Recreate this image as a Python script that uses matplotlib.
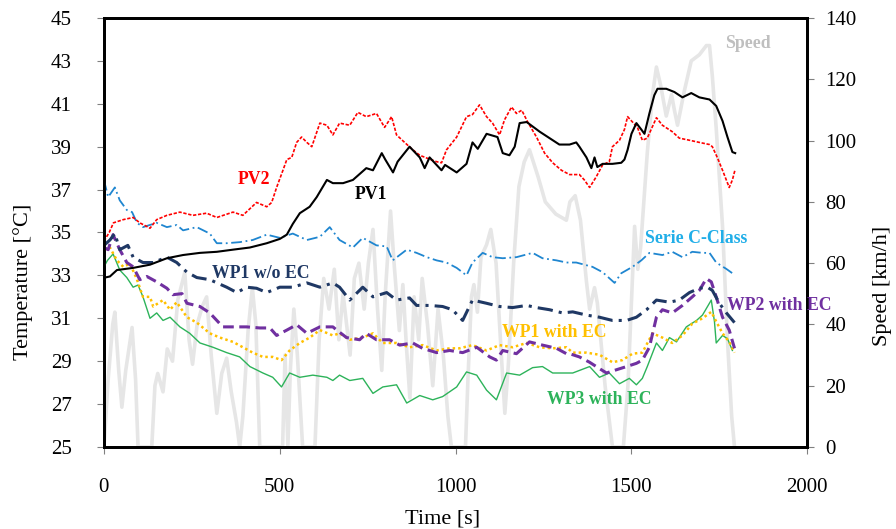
import matplotlib
matplotlib.use('Agg')
import matplotlib.pyplot as plt

plt.rcParams['font.family'] = ['Liberation Serif', 'DejaVu Serif']

# ---- data ----
pv1_t = [0, 3, 17, 37, 83, 131, 179, 225, 273, 321, 367, 415, 463, 500, 520, 537, 557, 585, 605, 634,
         651, 680, 708, 746, 765, 790, 800, 822, 835, 869, 898, 912, 926, 960, 970, 1003, 1031, 1048,
         1063, 1088, 1119, 1134, 1153, 1168, 1182, 1202, 1239, 1267, 1295, 1324, 1343, 1352, 1372, 1386,
         1395, 1403, 1418, 1446, 1471, 1480, 1489, 1500, 1514, 1528, 1537, 1551, 1565, 1574, 1599, 1622,
         1645, 1670, 1693, 1722, 1741, 1759, 1773, 1787, 1795]
pv1 = [33.0, 32.9, 32.95, 33.25, 33.35, 33.5, 33.8, 33.95, 34.05, 34.1, 34.2, 34.3, 34.5, 34.7, 34.9, 35.4,
       35.9, 36.2, 36.65, 37.45, 37.3, 37.3, 37.45, 38.0, 37.9, 38.7, 38.4, 37.8, 38.3, 39.0, 38.5, 38.0,
       38.5, 37.9, 38.15, 37.8, 38.2, 39.2, 38.9, 39.6, 39.45, 38.7, 38.6, 39.0, 40.1, 40.15, 39.7, 39.4,
       39.1, 39.1, 39.2, 39.0, 38.5, 38.0, 38.5, 38.05, 38.2, 38.2, 38.25, 38.4, 38.85, 39.6, 40.1, 39.8,
       39.6, 40.55, 41.4, 41.7, 41.7, 41.55, 41.3, 41.5, 41.3, 41.2, 40.9, 40.2, 39.45, 38.75, 38.7]

pv2_t = [0, 15, 27, 55, 83, 102, 131, 150, 179, 216, 253, 292, 321, 367, 395, 434, 463, 477, 491, 509,
         520, 534, 548, 562, 577, 591, 614, 634, 651, 670, 699, 722, 746, 775, 798, 818, 832, 855, 875,
         898, 921, 946, 960, 974, 1003, 1031, 1048, 1068, 1088, 1105, 1125, 1139, 1159, 1173, 1188, 1205,
         1230, 1253, 1276, 1301, 1324, 1352, 1366, 1381, 1400, 1418, 1437, 1446, 1466, 1480, 1489, 1503,
         1517, 1531, 1545, 1571, 1588, 1616, 1636, 1665, 1693, 1722, 1730, 1744, 1759, 1778, 1787, 1795]
pv2 = [34.6, 35.0, 35.45, 35.6, 35.7, 35.45, 35.2, 35.6, 35.8, 35.95, 35.8, 35.9, 35.7, 35.95, 35.8, 36.4,
       36.2, 36.4, 37.1, 37.9, 38.4, 38.5, 39.2, 39.45, 39.2, 39.0, 40.1, 40.0, 39.55, 40.1, 40.0, 40.6,
       40.4, 40.55, 39.9, 40.4, 39.55, 39.2, 38.9, 38.6, 38.45, 38.3, 38.25, 38.85, 39.45, 40.4, 40.5,
       40.95, 40.4, 40.1, 39.55, 40.25, 40.85, 40.55, 40.7, 40.15, 39.45, 38.7, 38.25, 37.9, 37.7, 37.7,
       37.45, 37.1, 37.6, 38.15, 38.3, 39.0, 39.3, 39.8, 40.4, 40.15, 39.9, 39.3, 39.4, 40.35, 40.0, 39.7,
       39.4, 39.3, 39.2, 39.1, 39.0, 38.5, 37.9, 37.1, 37.45, 37.95]

cclass_t = [0, 12, 31, 45, 65, 80, 94, 111, 150, 179, 207, 225, 264, 301, 321, 349, 386, 423, 463, 500,
            537, 577, 614, 642, 670, 708, 736, 775, 804, 821, 861, 889, 918, 946, 974, 1003, 1031, 1048,
            1077, 1105, 1134, 1173, 1219, 1247, 1287, 1315, 1343, 1389, 1418, 1452, 1471, 1503, 1528,
            1551, 1588, 1616, 1645, 1673, 1702, 1722, 1741, 1770, 1787]
cclass = [37.45, 36.65, 37.1, 36.5, 36.05, 35.95, 35.45, 35.25, 35.45, 35.25, 35.35, 35.1, 35.25, 34.95,
          34.5, 34.5, 34.55, 34.65, 34.9, 34.75, 34.95, 34.65, 34.8, 35.25, 34.65, 34.3, 34.75, 34.4,
          34.35, 33.7, 34.2, 34.05, 33.85, 33.7, 33.6, 33.35, 33.0, 33.6, 34.05, 33.85, 33.8, 33.85, 34.05,
          33.8, 33.7, 33.6, 33.6, 33.4, 33.15, 32.65, 33.1, 33.4, 33.7, 34.05, 33.95, 34.1, 33.85, 34.1,
          34.05, 34.05, 33.6, 33.3, 33.1]

wp1_noec_t = [0, 17, 31, 45, 68, 83, 111, 140, 179, 207, 236, 264, 301, 349, 378, 406, 434, 463, 500,
              537, 577, 614, 651, 670, 699, 736, 765, 804, 832, 869, 889, 926, 963, 991, 1020, 1048, 1088,
              1125, 1162, 1202, 1230, 1267, 1304, 1333, 1372, 1409, 1446, 1486, 1514, 1543, 1571, 1608,
              1636, 1665, 1693, 1716, 1730, 1750, 1770, 1793]
wp1_noec = [34.4, 34.65, 34.95, 34.2, 34.4, 33.85, 33.6, 33.6, 33.85, 33.6, 33.15, 32.9, 32.8, 32.45, 32.2,
            32.45, 32.4, 32.2, 32.45, 32.45, 32.65, 32.45, 32.65, 32.45, 31.85, 32.45, 32.0, 32.2, 31.85,
            31.95, 31.6, 31.6, 31.55, 31.4, 30.9, 31.85, 31.7, 31.55, 31.5, 31.6, 31.5, 31.4, 31.25, 31.3,
            31.15, 31.05, 30.9, 30.9, 31.05, 31.4, 31.85, 31.75, 31.85, 32.2, 32.4, 32.45, 32.3, 31.7,
            31.25, 30.8]

wp2_t = [0, 12, 26, 45, 65, 83, 102, 122, 150, 179, 196, 222, 236, 273, 301, 338, 367, 406, 443, 472, 491,
         520, 548, 577, 614, 651, 662, 690, 727, 746, 775, 812, 841, 878, 906, 946, 983, 1020, 1060, 1097,
         1116, 1134, 1173, 1210, 1247, 1287, 1315, 1324, 1352, 1381, 1400, 1429, 1457, 1486, 1514, 1531,
         1551, 1571, 1588, 1616, 1645, 1673, 1693, 1713, 1727, 1741, 1759, 1778, 1793]
wp2 = [34.3, 34.2, 34.9, 34.2, 33.6, 33.4, 32.8, 32.95, 32.7, 32.4, 32.1, 32.15, 31.7, 31.55, 31.25, 30.6,
       30.6, 30.6, 30.55, 30.55, 30.2, 30.45, 30.7, 30.3, 30.6, 30.6, 30.45, 30.1, 30.0, 30.3, 30.0, 30.0,
       29.75, 29.85, 29.6, 29.4, 29.5, 29.4, 29.65, 29.2, 29.05, 29.5, 29.35, 29.9, 29.75, 29.6, 29.35,
       29.35, 29.2, 28.95, 28.75, 28.45, 28.6, 28.75, 28.9, 29.05, 29.65, 31.05, 31.4, 31.25, 31.6, 32.0,
       32.3, 32.85, 32.7, 32.0, 31.05, 30.45, 29.6]

wp1_ec_t = [0, 17, 37, 55, 74, 93, 111, 131, 140, 168, 188, 207, 236, 264, 301, 330, 367, 395, 423, 452,
            480, 505, 528, 557, 585, 614, 651, 670, 699, 736, 765, 793, 832, 869, 906, 946, 983, 1011,
            1048, 1088, 1125, 1162, 1202, 1239, 1276, 1315, 1333, 1372, 1409, 1446, 1474, 1503, 1531,
            1560, 1588, 1616, 1645, 1673, 1702, 1727, 1741, 1759, 1778, 1793]
wp1_ec = [34.2, 34.3, 33.7, 33.4, 33.55, 32.85, 32.0, 32.0, 31.55, 31.85, 31.4, 31.75, 31.05, 30.8, 30.3,
          30.1, 29.9, 29.65, 29.4, 29.2, 29.2, 29.05, 29.5, 29.85, 30.1, 30.45, 30.2, 30.3, 30.0, 30.1,
          30.3, 29.85, 29.85, 29.65, 29.75, 29.5, 29.6, 29.6, 29.75, 29.5, 29.75, 29.65, 29.85, 29.65,
          29.6, 29.65, 29.4, 29.4, 29.3, 28.95, 29.05, 29.35, 29.4, 30.3, 30.1, 29.85, 30.2, 30.75, 31.0,
          31.3, 30.85, 30.3, 29.9, 29.4]

wp3_t = [0, 10, 26, 45, 65, 83, 97, 111, 131, 150, 168, 188, 216, 244, 273, 310, 349, 386, 415, 452, 480,
         505, 528, 557, 594, 634, 651, 670, 699, 736, 765, 793, 832, 861, 898, 935, 963, 1003, 1031, 1060,
         1088, 1116, 1145, 1182, 1219, 1247, 1276, 1315, 1333, 1381, 1409, 1437, 1466, 1494, 1514, 1531,
         1545, 1571, 1588, 1608, 1628, 1656, 1685, 1702, 1727, 1736, 1741, 1759, 1773, 1787]
wp3 = [33.4, 33.7, 34.0, 33.25, 32.9, 32.45, 32.55, 32.0, 31.0, 31.25, 30.9, 31.05, 30.6, 30.3, 29.85,
       29.65, 29.4, 29.2, 28.75, 28.45, 28.25, 27.8, 28.45, 28.25, 28.35, 28.25, 28.1, 28.35, 28.1, 28.2,
       27.5, 27.8, 27.9, 27.05, 27.4, 27.2, 27.35, 27.8, 28.5, 28.35, 27.65, 27.2, 28.45, 28.35, 28.7,
       28.75, 28.45, 28.45, 28.45, 28.75, 28.25, 28.45, 27.95, 28.2, 27.9, 28.2, 28.75, 29.85, 29.5, 30.1,
       29.9, 30.6, 30.9, 31.15, 31.85, 30.85, 29.85, 30.2, 30.05, 29.5]

speed_t = [0, 12, 25, 31, 42, 51, 62, 80, 90, 97, 136, 145, 153, 168, 180, 195, 210, 230, 242, 252, 265,
           280, 292, 305, 321, 335, 349, 362, 377, 386, 395, 410, 422, 432, 443, 508, 515, 523, 530, 540,
           550, 565, 600, 612, 625, 640, 655, 668, 680, 700, 712, 725, 740, 752, 765, 778, 790, 800, 815,
           825, 840, 850, 860, 870, 882, 895, 905, 920, 935, 950, 965, 978, 988, 1028, 1035, 1045, 1052,
           1062, 1072, 1088, 1100, 1115, 1130, 1140, 1150, 1165, 1180, 1195, 1210, 1235, 1255, 1285, 1315,
           1325, 1340, 1355, 1372, 1381, 1395, 1403, 1425, 1446, 1477, 1490, 1509, 1518, 1526, 1545, 1560,
           1571, 1583, 1599, 1614, 1622, 1631, 1650, 1670, 1693, 1713, 1722, 1730, 1741, 1759, 1773, 1785,
           1793]
speed = [0, 22, 40, 44, 25, 13, 25, 39, 22, 0, 0, 20, 24, 18, 32, 28, 48, 57, 35, 27, 40,
         46, 49, 30, 11, 24, 29, 18, 8, 0, 10, 38, 52, 40, 0, 0, 30, 0, 25, 45,
         30, 0, 0, 35, 55, 45, 58, 35, 50, 30, 55, 60, 45, 60, 71, 45, 25, 50, 77,
         60, 38, 53, 33, 16, 49, 35, 55, 40, 20, 45, 30, 10, 0, 0, 22, 49, 53,
         44, 62, 66, 71, 60, 30, 11, 27, 60, 85, 93, 97, 88, 80, 76, 74,
         80, 82, 74, 54, 45, 52, 47, 20, 0, 0, 20, 72, 58, 65, 96, 115,
         124, 118, 108, 115, 110, 105, 116, 126, 128, 131, 131, 121, 104, 72, 35, 10,
         0]

fig, ax = plt.subplots(figsize=(8.96, 5.29), dpi=100)
fig.subplots_adjust(left=0.116, right=0.901, bottom=0.155, top=0.966)

ax2 = ax.twinx()
ax2.plot(speed_t, speed, color='#e6e6e6', lw=2.6, zorder=1)
ax2.set_ylim(0, 140)
ax2.set_yticks(range(0, 141, 20))
ax2.set_ylabel('Speed [km/h]', fontsize=16)
ax2.yaxis.set_label_coords(1.094, 0.375)

ax.set_zorder(ax2.get_zorder() + 1)
ax.patch.set_visible(False)

ax.plot(wp3_t, wp3, color='#2db35a', lw=1.0)
ax.plot(wp1_ec_t, wp1_ec, color='#ffc000', lw=1.8, linestyle=(0, (1, 1.2)))
ax.plot(wp2_t, wp2, color='#7030a0', lw=2.2, linestyle=(0, (3.5, 1.8)))
ax.plot(wp1_noec_t, wp1_noec, color='#1f3864', lw=2.2, linestyle=(0, (5, 2, 1, 2)))
ax.plot(cclass_t, cclass, color='#1f86d0', lw=1.3, linestyle=(0, (6, 2, 1, 2)))
ax.plot(pv2_t, pv2, color='#ff0000', lw=1.2, linestyle=(0, (2, 1)))
ax.plot(pv1_t, pv1, color='black', lw=1.5)

ax.set_xlim(0, 2000)
ax.set_ylim(25, 45)
ax.set_xticks([0, 500, 1000, 1500, 2000])
ax.set_yticks(range(25, 46, 2))
ax.set_xlabel('Time [s]', fontsize=16)
ax.xaxis.set_label_coords(0.482, -0.146)
ax.set_ylabel('Temperature [°C]', fontsize=16)
ax.yaxis.set_label_coords(-0.101, 0.385)

for a in (ax, ax2):
    a.tick_params(direction='out', length=5, width=0.8, color='#808080', labelsize=15)
    for s in a.spines.values():
        s.set_linewidth(2)
        s.set_color('black')
ax.tick_params(axis='x', pad=17)
ax.tick_params(axis='y', pad=18)
ax2.tick_params(axis='y', pad=8)

lab = dict(fontsize=12.8, fontweight='bold', ha='center', va='center')
ax.text(426, 37.45, 'PV2', color='#ff0000', **lab)
ax.text(759, 36.75, 'PV1', color='black', **lab)
ax.text(446, 33.07, 'WP1 w/o EC', color='#1f3864', **lab)
ax.text(1685, 34.74, 'Serie C-Class', color='#20aee8', **lab)
ax.text(1920, 31.6, 'WP2 with EC', color='#7030a0', clip_on=False, **lab)
ax.text(1281, 30.36, 'WP1 with EC', color='#ffc000', **lab)
ax.text(1409, 27.2, 'WP3 with EC', color='#2db35a', **lab)
ax.text(1832, 43.83, 'Speed', color='#bfbfbf', **lab)

plt.savefig('out.png', dpi=100)
plt.close()
